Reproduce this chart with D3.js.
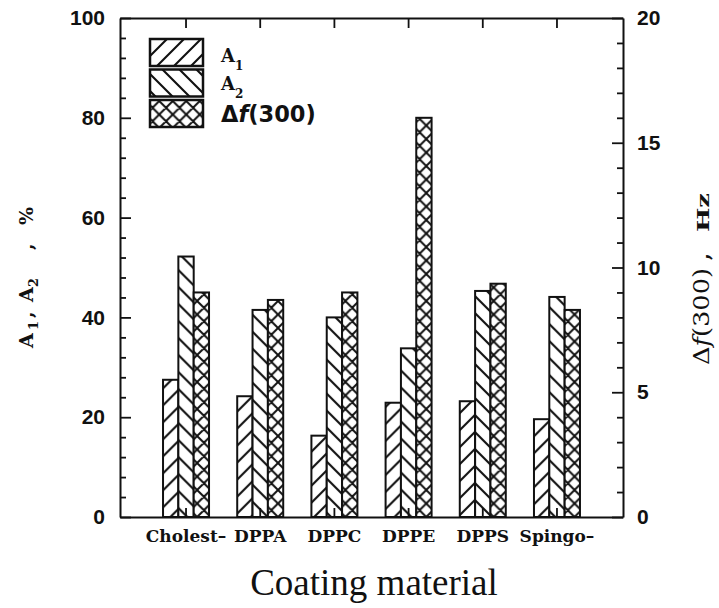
<!DOCTYPE html>
<html>
<head>
<meta charset="utf-8">
<script src="https://cdn.jsdelivr.net/npm/d3@7"></script>
<style>
  body { margin: 0; background: #fff; }
  .axis .domain { stroke: #111; stroke-width: 2; }
  .axis line { stroke: #111; stroke-width: 1.8; }
  .axis text { fill: #111; }
</style>
</head>
<body>
<svg class="chart"></svg>
<script>
const categories = ["Cholest–", "DPPA", "DPPC", "DPPE", "DPPS", "Spingo–"];
const seriesNames = ["A1", "A2", "df"];
const a1Values = [27.5, 24.2, 16.3, 22.9, 23.2, 19.6];
const a2Values = [52.2, 41.5, 40.0, 33.8, 45.3, 44.1];
const dfValues = [9.0, 8.7, 9.0, 16.0, 9.35, 8.3];
const leftTicks = [0, 20, 40, 60, 80, 100];
const rightTicks = [0, 5, 10, 15, 20];

const margin = {
  top: 18,
  right: 96,
  bottom: 91,
  left: 120,
};
const width = 719 - margin.left - margin.right;
const height = 608 - margin.top - margin.bottom;

const x = d3.scaleBand()
  .domain(categories)
  .range([0, width])
  .paddingInner(0.38)
  .paddingOuter(0.58);

const xs = d3.scaleBand()
  .domain(seriesNames)
  .range([0, x.bandwidth()]);

const yLeft = d3.scaleLinear()
  .domain([0, 100])
  .range([height, 0]);

const yRight = d3.scaleLinear()
  .domain([0, 20])
  .range([height, 0]);

const svg = d3.select('.chart')
  .attr('width', 719)
  .attr('height', 608);

const defs = svg.append('defs');

// hatch tiles: "/" for A1, "\" for A2, cross for delta f
const hatch = {
  A1: {size: 17, width: 2.1, d: p => `M-1,1L1,-1M0,${p}L${p},0M${p - 1},${p + 1}L${p + 1},${p - 1}`},
  A2: {size: 17, width: 2.1, d: p => `M-1,${p - 1}L1,${p + 1}M0,0L${p},${p}M${p - 1},-1L${p + 1},1`},
  df: {size: 13.5, width: 2, d: p => `M-1,1L1,-1M0,${p}L${p},0M${p - 1},${p + 1}L${p + 1},${p - 1}` +
                               `M-1,${p - 1}L1,${p + 1}M0,0L${p},${p}M${p - 1},-1L${p + 1},1`},
};

function makePattern(id, key, ox, oy) {
  const h = hatch[key];
  const pat = defs.append('pattern')
    .attr('id', id)
    .attr('patternUnits', 'userSpaceOnUse')
    .attr('x', ox)
    .attr('y', oy)
    .attr('width', h.size)
    .attr('height', h.size);
  pat.append('rect')
    .attr('width', h.size)
    .attr('height', h.size)
    .attr('fill', '#fff');
  pat.append('path')
    .attr('d', h.d(h.size))
    .attr('stroke', '#111')
    .attr('stroke-width', h.width)
    .attr('fill', 'none');
  return `url(#${id})`;
}

const chart = svg.append('g')
  .attr('transform', `translate(${margin.left}, ${margin.top})`);

const rows = categories.map(function(c, i) {
  return {
    name: c,
    bars: [
      {key: 'A1', value: a1Values[i], y: yLeft},
      {key: 'A2', value: a2Values[i], y: yLeft},
      {key: 'df', value: dfValues[i], y: yRight},
    ],
  };
});

const group = chart.selectAll('.group')
  .data(rows)
  .enter()
.append('g')
  .attr('class', 'group')
  .attr('transform', d => `translate(${x(d.name)}, 0)`);

group.selectAll('rect')
  .data(d => d.bars.map(b => Object.assign({cat: d.name}, b)))
  .enter()
.append('rect')
  .attr('x', d => xs(d.key))
  .attr('y', d => d.y(d.value))
  .attr('width', xs.bandwidth())
  .attr('height', d => height - d.y(d.value))
  .attr('stroke', '#111')
  .attr('stroke-width', 2)
  .attr('fill', function(d) {
    const id = `p-${d.key}-${categories.indexOf(d.cat)}`;
    const p = hatch[d.key].size;
    // A1 / A2 lines meet at their common edge, cross is centred in its bar
    const ox = d.key === 'df'
      ? x(d.cat) + xs('df') + xs.bandwidth() / 2 - p / 2
      : x(d.cat) + xs('A2');
    return makePattern(id, d.key, ox, height);
  });

// axes
chart.append('g')
  .attr('class', 'axis')
  .call(d3.axisLeft(yLeft).tickValues(d3.range(0, 101, 4).filter(v => v % 20)).tickSize(-6).tickFormat(''))
  .select('.domain').remove();

chart.append('g')
  .attr('class', 'axis')
  .call(d3.axisLeft(yLeft).tickValues(leftTicks).tickSizeInner(-11).tickSizeOuter(0).tickPadding(15))
  .selectAll('text')
    .style('font', 'bold 21px "Liberation Sans", Arial, sans-serif');

chart.append('g')
  .attr('class', 'axis')
  .attr('transform', `translate(${width}, 0)`)
  .call(d3.axisRight(yRight).tickValues(d3.range(0, 21, 1).filter(v => v % 5)).tickSize(-6).tickFormat(''))
  .select('.domain').remove();

chart.append('g')
  .attr('class', 'axis')
  .attr('transform', `translate(${width}, 0)`)
  .call(d3.axisRight(yRight).tickValues(rightTicks).tickSizeInner(-11).tickSizeOuter(0).tickPadding(14))
  .selectAll('text')
    .style('font', 'bold 21px "Liberation Sans", Arial, sans-serif');

chart.append('g')
  .attr('class', 'axis')
  .call(d3.axisTop(x).tickSizeInner(-10).tickSizeOuter(0).tickFormat(''));

chart.append('g')
  .attr('class', 'axis')
  .attr('transform', `translate(0, ${height})`)
  .call(d3.axisBottom(x).tickSizeInner(-9).tickSizeOuter(0).tickPadding(13))
  .selectAll('text')
    .style('font', 'bold 17px "DejaVu Serif", serif');

// legend
const legendLabels = [
  {key: 'A1', main: 'A', sub: '1'},
  {key: 'A2', main: 'A', sub: '2'},
  {key: 'df', main: 'Δ', italic: 'f', rest: '(300)'},
];

const legend = chart.selectAll('.legend')
  .data(legendLabels)
  .enter()
.append('g')
  .attr('class', 'legend')
  .attr('transform', (d, i) => `translate(30, ${21 + i * 30.5})`);

legend.append('rect')
  .attr('width', 53)
  .attr('height', 27)
  .attr('stroke', '#111')
  .attr('stroke-width', 2.5)
  .attr('fill', function(d, i) {
    const p = hatch[d.key].size;
    return makePattern(`leg-${d.key}`, d.key, 30 + (d.key === 'df' ? 26.5 - p / 2 : 0), 21 + i * 30.5);
  });

legend.each(function(d, i) {
  const t = d3.select(this).append('text')
    .attr('x', 71)
    .attr('y', i === 1 ? 20 : 23)
    .attr('fill', '#111');
  if (d.sub) {
    t.style('font', 'bold 18px "DejaVu Serif", serif');
    t.append('tspan').text(d.main);
    t.append('tspan').attr('dy', 8).style('font-size', '12px').text(d.sub);
  } else {
    t.attr('y', 22).style('font', 'bold 22.5px "DejaVu Sans", sans-serif');
    t.append('tspan').text(d.main);
    t.append('tspan').style('font-style', 'italic').text(d.italic);
    t.append('tspan').text(d.rest);
  }
});

// left axis title, rotated; x runs upward along the page
const leftTitle = svg.append('text')
  .attr('transform', 'translate(33, 0) rotate(-90)')
  .attr('fill', '#111')
  .style('font', 'bold 19px "DejaVu Serif", serif');
leftTitle.append('tspan').attr('x', -348).text('A');
leftTitle.append('tspan').attr('x', -330).attr('dy', 5).style('font-size', '13px').text('1');
leftTitle.append('tspan').attr('x', -318).attr('dy', -5).text(',');
leftTitle.append('tspan').attr('x', -302).text('A');
leftTitle.append('tspan').attr('x', -287).attr('dy', 5).style('font-size', '13px').text('2');
leftTitle.append('tspan').attr('x', -250).attr('dy', -5).text(',');
leftTitle.append('tspan').attr('x', -225).text('%');

// right axis title
const rightTitle = svg.append('g')
  .attr('transform', 'translate(709, 0) rotate(-90)')
  .attr('fill', '#111');
const dfText = rightTitle.append('text')
  .attr('x', -365)
  .attr('textLength', 97)
  .attr('lengthAdjust', 'spacingAndGlyphs')
  .style('font', '23px "DejaVu Serif", serif');
dfText.append('tspan').text('Δ');
dfText.append('tspan').style('font-style', 'italic').text('f');
dfText.append('tspan').text('(300)');
rightTitle.append('text')
  .attr('x', -260)
  .style('font', 'bold 20px "DejaVu Serif", serif')
  .text(',');
rightTitle.append('text')
  .attr('x', -232)
  .attr('textLength', 39)
  .attr('lengthAdjust', 'spacingAndGlyphs')
  .style('font', 'bold 17px "DejaVu Serif", serif')
  .text('Hz');

svg.append('text')
  .attr('x', 374)
  .attr('y', 595)
  .attr('text-anchor', 'middle')
  .attr('fill', '#111')
  .style('font', '37px "Liberation Serif", "Times New Roman", serif')
  .text('Coating material');
</script>
</body>
</html>
